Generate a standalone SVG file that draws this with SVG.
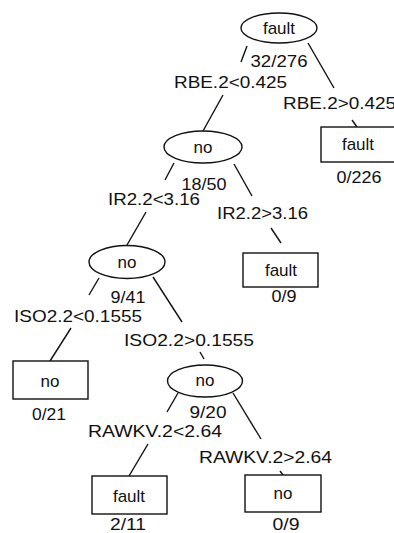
<svg xmlns="http://www.w3.org/2000/svg" width="394" height="533" viewBox="0 0 394 533">
<style>
text{font-family:"Liberation Sans",Arial,sans-serif;font-size:17px;fill:#111}
.m{text-anchor:middle}
.n{fill:#fff;stroke:#111;stroke-width:1.4}
.c line{stroke:#111;stroke-width:1.4}
</style>
<rect width="394" height="533" fill="#fff"/>
<g id="connectors" class="c">
<line x1="247" y1="46" x2="241" y2="62"/>
<line x1="223" y1="95" x2="203" y2="131"/>
<line x1="308" y1="43" x2="334" y2="88"/>
<line x1="352" y1="120" x2="357" y2="127"/>
<line x1="174" y1="163" x2="165" y2="180"/>
<line x1="234" y1="164" x2="252" y2="196"/>
<line x1="146" y1="212" x2="127" y2="245"/>
<line x1="271" y1="228" x2="281" y2="243"/>
<line x1="99" y1="278" x2="89" y2="295"/>
<line x1="153" y1="277" x2="182" y2="322"/>
<line x1="71" y1="328" x2="50" y2="361"/>
<line x1="200" y1="352" x2="204" y2="359"/>
<line x1="178" y1="393" x2="167" y2="412"/>
<line x1="233" y1="393" x2="261" y2="439"/>
<line x1="148" y1="444" x2="129" y2="476"/>
<line x1="280" y1="471" x2="283" y2="475"/>
</g>
<g id="root">
<ellipse class="n" cx="279" cy="28" rx="38" ry="15"/>
<text class="m" x="279" y="34">fault</text>
<text class="m" x="279" y="67" textLength="57" lengthAdjust="spacingAndGlyphs">32/276</text>
</g>
<g id="lbl-rbe-lt"><text x="174" y="88" textLength="113" lengthAdjust="spacingAndGlyphs">RBE.2&lt;0.425</text></g>
<g id="lbl-rbe-gt"><text x="283" y="109" textLength="113" lengthAdjust="spacingAndGlyphs">RBE.2&gt;0.425</text></g>
<g id="leaf-fault-1">
<rect class="n" x="321" y="127" width="76" height="35"/>
<text class="m" x="358" y="150">fault</text>
<text class="m" x="359" y="183" textLength="45" lengthAdjust="spacingAndGlyphs">0/226</text>
</g>
<g id="node-no-1">
<ellipse class="n" cx="203" cy="147" rx="39" ry="16"/>
<text class="m" x="203" y="153">no</text>
<text class="m" x="204" y="190" textLength="45" lengthAdjust="spacingAndGlyphs">18/50</text>
</g>
<g id="lbl-ir-lt"><text x="108" y="205" textLength="92" lengthAdjust="spacingAndGlyphs">IR2.2&lt;3.16</text></g>
<g id="lbl-ir-gt"><text x="217" y="219" textLength="91" lengthAdjust="spacingAndGlyphs">IR2.2&gt;3.16</text></g>
<g id="leaf-fault-2">
<rect class="n" x="243" y="253" width="75" height="34"/>
<text class="m" x="281" y="276">fault</text>
<text class="m" x="284" y="302" textLength="25" lengthAdjust="spacingAndGlyphs">0/9</text>
</g>
<g id="node-no-2">
<ellipse class="n" cx="127" cy="262" rx="38" ry="16.5"/>
<text class="m" x="127" y="268">no</text>
<text class="m" x="128" y="303" textLength="35" lengthAdjust="spacingAndGlyphs">9/41</text>
</g>
<g id="lbl-iso-lt"><text x="14" y="322" textLength="128" lengthAdjust="spacingAndGlyphs">ISO2.2&lt;0.1555</text></g>
<g id="lbl-iso-gt"><text x="124" y="346" textLength="130" lengthAdjust="spacingAndGlyphs">ISO2.2&gt;0.1555</text></g>
<g id="leaf-no-1">
<rect class="n" x="13" y="361" width="75" height="38"/>
<text class="m" x="50" y="387">no</text>
<text class="m" x="49" y="420" textLength="34" lengthAdjust="spacingAndGlyphs">0/21</text>
</g>
<g id="node-no-3">
<ellipse class="n" cx="205" cy="381" rx="37.5" ry="16"/>
<text class="m" x="205" y="386">no</text>
<text class="m" x="208" y="418" textLength="37" lengthAdjust="spacingAndGlyphs">9/20</text>
</g>
<g id="lbl-raw-lt"><text x="88" y="437" textLength="134" lengthAdjust="spacingAndGlyphs">RAWKV.2&lt;2.64</text></g>
<g id="lbl-raw-gt"><text x="199" y="463" textLength="133" lengthAdjust="spacingAndGlyphs">RAWKV.2&gt;2.64</text></g>
<g id="leaf-fault-3">
<rect class="n" x="92" y="476" width="75" height="38"/>
<text class="m" x="129" y="502">fault</text>
<text class="m" x="128" y="530" textLength="36" lengthAdjust="spacingAndGlyphs">2/11</text>
</g>
<g id="leaf-no-2">
<rect class="n" x="245" y="475" width="76" height="37"/>
<text class="m" x="283" y="499">no</text>
<text class="m" x="286" y="530" textLength="27" lengthAdjust="spacingAndGlyphs">0/9</text>
</g>
</svg>
